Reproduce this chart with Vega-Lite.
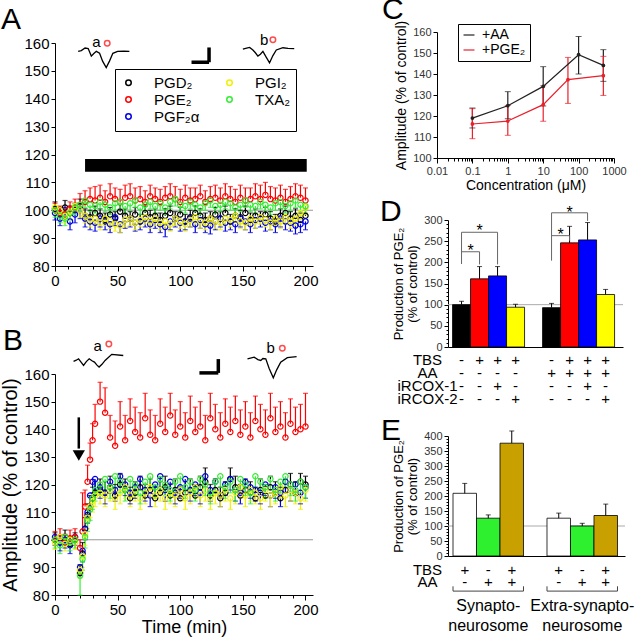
{
"$schema":"https://vega.github.io/schema/vega-lite/v6.json",
"padding":{"left":0,"top":-5,"right":0,"bottom":0},
"background":"white",
"config":{"font":"Liberation Sans","view":{"stroke":null},
 "axis":{"grid":false,"domainColor":"black","tickColor":"black","labelColor":"black","titleColor":"black","titleFontWeight":"normal","labelFlush":false,"labelOverlap":false},
 "title":{"fontSize":30,"fontWeight":"normal","anchor":"start","frame":"group","offset":0,"color":"black"},
 "legend":{"labelColor":"black"}},
"datasets":{
"A":[
{"t":0,"s":"D","y":100.5,"e":103},{"t":4,"s":"D","y":98.5,"e":101},{"t":8,"s":"D","y":101,"e":103.5},{"t":12,"s":"D","y":99,"e":101.5},{"t":16,"s":"D","y":100,"e":102.5},{"t":20,"s":"D","y":101.5,"e":104},{"t":24,"s":"D","y":98,"e":100.5},{"t":28,"s":"D","y":97.5,"e":100},{"t":32,"s":"D","y":99,"e":101.5},{"t":36,"s":"D","y":98,"e":100.5},{"t":40,"s":"D","y":96.5,"e":99},{"t":44,"s":"D","y":98.5,"e":101},{"t":48,"s":"D","y":97,"e":99.5},{"t":52,"s":"D","y":99.5,"e":102},{"t":56,"s":"D","y":98,"e":100.5},{"t":60,"s":"D","y":97,"e":99.5},{"t":64,"s":"D","y":98.5,"e":101},{"t":68,"s":"D","y":96,"e":98.5},{"t":72,"s":"D","y":99,"e":101.5},{"t":76,"s":"D","y":97.5,"e":100},{"t":80,"s":"D","y":98,"e":100.5},{"t":84,"s":"D","y":96.5,"e":99},{"t":88,"s":"D","y":98,"e":100.5},{"t":92,"s":"D","y":99,"e":101.5},{"t":96,"s":"D","y":97,"e":99.5},{"t":100,"s":"D","y":98.5,"e":101},{"t":104,"s":"D","y":96,"e":98.5},{"t":108,"s":"D","y":97.5,"e":100},{"t":112,"s":"D","y":99,"e":101.5},{"t":116,"s":"D","y":98,"e":100.5},{"t":120,"s":"D","y":96.5,"e":99},{"t":124,"s":"D","y":97,"e":99.5},{"t":128,"s":"D","y":98.5,"e":101},{"t":132,"s":"D","y":97,"e":99.5},{"t":136,"s":"D","y":99,"e":101.5},{"t":140,"s":"D","y":96,"e":98.5},{"t":144,"s":"D","y":98,"e":100.5},{"t":148,"s":"D","y":97.5,"e":100},{"t":152,"s":"D","y":99,"e":101.5},{"t":156,"s":"D","y":96.5,"e":99},{"t":160,"s":"D","y":98,"e":100.5},{"t":164,"s":"D","y":97,"e":99.5},{"t":168,"s":"D","y":98.5,"e":101},{"t":172,"s":"D","y":97,"e":99.5},{"t":176,"s":"D","y":96,"e":98.5},{"t":180,"s":"D","y":98,"e":100.5},{"t":184,"s":"D","y":99,"e":101.5},{"t":188,"s":"D","y":97,"e":99.5},{"t":192,"s":"D","y":98,"e":100.5},{"t":196,"s":"D","y":96.5,"e":99},{"t":200,"s":"D","y":98,"e":100.5},
{"t":0,"s":"F","y":99,"e":96.5},{"t":4,"s":"F","y":97,"e":94.5},{"t":8,"s":"F","y":100,"e":97},{"t":12,"s":"F","y":96,"e":93},{"t":16,"s":"F","y":98.5,"e":95.5},{"t":20,"s":"F","y":100,"e":97},{"t":24,"s":"F","y":97,"e":94},{"t":28,"s":"F","y":96,"e":93},{"t":32,"s":"F","y":95.5,"e":92.5},{"t":36,"s":"F","y":97,"e":94},{"t":40,"s":"F","y":96,"e":93},{"t":44,"s":"F","y":95,"e":92},{"t":48,"s":"F","y":97.5,"e":94.5},{"t":52,"s":"F","y":95,"e":92},{"t":56,"s":"F","y":96.5,"e":93.5},{"t":60,"s":"F","y":97,"e":94},{"t":64,"s":"F","y":95.5,"e":92.5},{"t":68,"s":"F","y":96,"e":93},{"t":72,"s":"F","y":97,"e":94},{"t":76,"s":"F","y":95,"e":92},{"t":80,"s":"F","y":96.5,"e":93.5},{"t":84,"s":"F","y":95,"e":92},{"t":88,"s":"F","y":94,"e":90.5},{"t":92,"s":"F","y":96,"e":93},{"t":96,"s":"F","y":97,"e":94},{"t":100,"s":"F","y":95.5,"e":92.5},{"t":104,"s":"F","y":96,"e":93},{"t":108,"s":"F","y":97,"e":94},{"t":112,"s":"F","y":95,"e":92},{"t":116,"s":"F","y":96.5,"e":93.5},{"t":120,"s":"F","y":95,"e":92},{"t":124,"s":"F","y":94.5,"e":91.5},{"t":128,"s":"F","y":96,"e":93},{"t":132,"s":"F","y":97,"e":94},{"t":136,"s":"F","y":95.5,"e":92.5},{"t":140,"s":"F","y":96,"e":93},{"t":144,"s":"F","y":95,"e":92},{"t":148,"s":"F","y":97,"e":94},{"t":152,"s":"F","y":96,"e":93},{"t":156,"s":"F","y":95,"e":92},{"t":160,"s":"F","y":96.5,"e":93.5},{"t":164,"s":"F","y":97,"e":94},{"t":168,"s":"F","y":95.5,"e":92.5},{"t":172,"s":"F","y":96,"e":93},{"t":176,"s":"F","y":95,"e":92},{"t":180,"s":"F","y":97,"e":94},{"t":184,"s":"F","y":96,"e":93},{"t":188,"s":"F","y":95.5,"e":92.5},{"t":192,"s":"F","y":94.5,"e":91.5},{"t":196,"s":"F","y":95,"e":92},{"t":200,"s":"F","y":96,"e":93},
{"t":0,"s":"E","y":100,"e":102.5},{"t":4,"s":"E","y":99,"e":101.5},{"t":8,"s":"E","y":98.5,"e":101},{"t":12,"s":"E","y":100.5,"e":103},{"t":16,"s":"E","y":101,"e":104},{"t":20,"s":"E","y":102,"e":106},{"t":24,"s":"E","y":103,"e":107},{"t":28,"s":"E","y":104,"e":108},{"t":32,"s":"E","y":103.5,"e":108.5},{"t":36,"s":"E","y":104.5,"e":109},{"t":40,"s":"E","y":103,"e":107},{"t":44,"s":"E","y":105,"e":109.5},{"t":48,"s":"E","y":104,"e":108},{"t":52,"s":"E","y":103,"e":107.5},{"t":56,"s":"E","y":104.5,"e":109},{"t":60,"s":"E","y":105,"e":109.5},{"t":64,"s":"E","y":103.5,"e":108},{"t":68,"s":"E","y":104,"e":108.5},{"t":72,"s":"E","y":103,"e":107},{"t":76,"s":"E","y":105,"e":109},{"t":80,"s":"E","y":104,"e":108},{"t":84,"s":"E","y":103,"e":107.5},{"t":88,"s":"E","y":104.5,"e":108.5},{"t":92,"s":"E","y":105,"e":109.5},{"t":96,"s":"E","y":104,"e":108.5},{"t":100,"s":"E","y":103,"e":107.5},{"t":104,"s":"E","y":104.5,"e":109},{"t":108,"s":"E","y":103.5,"e":108},{"t":112,"s":"E","y":104,"e":108},{"t":116,"s":"E","y":105,"e":109},{"t":120,"s":"E","y":103,"e":107},{"t":124,"s":"E","y":104,"e":108.5},{"t":128,"s":"E","y":104.5,"e":109},{"t":132,"s":"E","y":103.5,"e":108},{"t":136,"s":"E","y":105,"e":109.5},{"t":140,"s":"E","y":104,"e":108.5},{"t":144,"s":"E","y":103,"e":107.5},{"t":148,"s":"E","y":104.5,"e":109},{"t":152,"s":"E","y":103.5,"e":108},{"t":156,"s":"E","y":104,"e":108},{"t":160,"s":"E","y":105,"e":109.5},{"t":164,"s":"E","y":104,"e":109},{"t":168,"s":"E","y":105.5,"e":110},{"t":172,"s":"E","y":104,"e":108.5},{"t":176,"s":"E","y":103.5,"e":108},{"t":180,"s":"E","y":104.5,"e":109},{"t":184,"s":"E","y":103,"e":107.5},{"t":188,"s":"E","y":104,"e":108.5},{"t":192,"s":"E","y":105,"e":109.5},{"t":196,"s":"E","y":104.5,"e":109},{"t":200,"s":"E","y":103.5,"e":108},
{"t":0,"s":"I","y":101,"e":98.5},{"t":4,"s":"I","y":100,"e":97.5},{"t":8,"s":"I","y":98,"e":95.5},{"t":12,"s":"I","y":99.5,"e":97},{"t":16,"s":"I","y":101.5,"e":99},{"t":20,"s":"I","y":100,"e":97.5},{"t":24,"s":"I","y":98,"e":95.5},{"t":28,"s":"I","y":96.5,"e":94},{"t":32,"s":"I","y":97,"e":94.5},{"t":36,"s":"I","y":95.5,"e":93},{"t":40,"s":"I","y":97,"e":94.5},{"t":44,"s":"I","y":96,"e":93.5},{"t":48,"s":"I","y":95,"e":92.5},{"t":52,"s":"I","y":94.5,"e":92},{"t":56,"s":"I","y":96.5,"e":94},{"t":60,"s":"I","y":97,"e":94.5},{"t":64,"s":"I","y":95.5,"e":93},{"t":68,"s":"I","y":96.5,"e":94},{"t":72,"s":"I","y":97.5,"e":95},{"t":76,"s":"I","y":96,"e":93.5},{"t":80,"s":"I","y":97,"e":94.5},{"t":84,"s":"I","y":95.5,"e":93},{"t":88,"s":"I","y":96,"e":93.5},{"t":92,"s":"I","y":95,"e":92.5},{"t":96,"s":"I","y":97,"e":94.5},{"t":100,"s":"I","y":96,"e":93.5},{"t":104,"s":"I","y":95,"e":92.5},{"t":108,"s":"I","y":96.5,"e":94},{"t":112,"s":"I","y":97.5,"e":95},{"t":116,"s":"I","y":96,"e":93.5},{"t":120,"s":"I","y":95.5,"e":93},{"t":124,"s":"I","y":97,"e":94.5},{"t":128,"s":"I","y":96,"e":93.5},{"t":132,"s":"I","y":95.5,"e":93},{"t":136,"s":"I","y":97,"e":94.5},{"t":140,"s":"I","y":96.5,"e":94},{"t":144,"s":"I","y":98,"e":95.5},{"t":148,"s":"I","y":96,"e":93.5},{"t":152,"s":"I","y":95.5,"e":93},{"t":156,"s":"I","y":97,"e":94.5},{"t":160,"s":"I","y":96,"e":93.5},{"t":164,"s":"I","y":97.5,"e":95},{"t":168,"s":"I","y":96.5,"e":94},{"t":172,"s":"I","y":95.5,"e":93},{"t":176,"s":"I","y":97,"e":94.5},{"t":180,"s":"I","y":96,"e":93.5},{"t":184,"s":"I","y":97.5,"e":95},{"t":188,"s":"I","y":96,"e":93.5},{"t":192,"s":"I","y":97,"e":94.5},{"t":196,"s":"I","y":99,"e":96.5},{"t":200,"s":"I","y":101,"e":98.5},
{"t":0,"s":"T","y":100,"e":97.5},{"t":4,"s":"T","y":98,"e":95.5},{"t":8,"s":"T","y":97,"e":94.5},{"t":12,"s":"T","y":99,"e":96.5},{"t":16,"s":"T","y":101,"e":98.5},{"t":20,"s":"T","y":102,"e":99.5},{"t":24,"s":"T","y":103.5,"e":101},{"t":28,"s":"T","y":102,"e":99.5},{"t":32,"s":"T","y":101.5,"e":99},{"t":36,"s":"T","y":103,"e":100.5},{"t":40,"s":"T","y":102,"e":99.5},{"t":44,"s":"T","y":101,"e":98.5},{"t":48,"s":"T","y":102.5,"e":100},{"t":52,"s":"T","y":103,"e":100.5},{"t":56,"s":"T","y":101.5,"e":99},{"t":60,"s":"T","y":102.5,"e":100},{"t":64,"s":"T","y":103.5,"e":101},{"t":68,"s":"T","y":101,"e":98.5},{"t":72,"s":"T","y":102,"e":99.5},{"t":76,"s":"T","y":103,"e":100.5},{"t":80,"s":"T","y":101.5,"e":99},{"t":84,"s":"T","y":102.5,"e":100},{"t":88,"s":"T","y":101,"e":98.5},{"t":92,"s":"T","y":103,"e":100.5},{"t":96,"s":"T","y":104,"e":101.5},{"t":100,"s":"T","y":102,"e":99.5},{"t":104,"s":"T","y":101.5,"e":99},{"t":108,"s":"T","y":103,"e":100.5},{"t":112,"s":"T","y":102,"e":99.5},{"t":116,"s":"T","y":101,"e":98.5},{"t":120,"s":"T","y":102.5,"e":100},{"t":124,"s":"T","y":103.5,"e":101},{"t":128,"s":"T","y":101.5,"e":99},{"t":132,"s":"T","y":102,"e":99.5},{"t":136,"s":"T","y":103,"e":100.5},{"t":140,"s":"T","y":102.5,"e":100},{"t":144,"s":"T","y":101,"e":98.5},{"t":148,"s":"T","y":102,"e":99.5},{"t":152,"s":"T","y":103.5,"e":101},{"t":156,"s":"T","y":102,"e":99.5},{"t":160,"s":"T","y":101.5,"e":99},{"t":164,"s":"T","y":103,"e":100.5},{"t":168,"s":"T","y":102,"e":99.5},{"t":172,"s":"T","y":101,"e":98.5},{"t":176,"s":"T","y":102.5,"e":100},{"t":180,"s":"T","y":103,"e":100.5},{"t":184,"s":"T","y":101.5,"e":99},{"t":188,"s":"T","y":102.5,"e":100},{"t":192,"s":"T","y":103.5,"e":101},{"t":196,"s":"T","y":102,"e":99.5},{"t":200,"s":"T","y":101.5,"e":99}
],
"B":[
{"t":0,"s":"D","y":100,"e":102.5},{"t":4,"s":"D","y":99,"e":101.5},{"t":8,"s":"D","y":101,"e":103.5},{"t":12,"s":"D","y":98.5,"e":101},{"t":16,"s":"D","y":100,"e":102.5},{"t":20,"s":"D","y":88,"e":91},{"t":22,"s":"D","y":95,"e":99},{"t":24,"s":"D","y":104,"e":108},{"t":26,"s":"D","y":109,"e":113},{"t":28,"s":"D","y":112,"e":116},{"t":30,"s":"D","y":115,"e":119},{"t":32,"s":"D","y":117,"e":121},{"t":36,"s":"D","y":118,"e":122},{"t":40,"s":"D","y":117,"e":121},{"t":44,"s":"D","y":119,"e":123},{"t":48,"s":"D","y":116,"e":120},{"t":52,"s":"D","y":120,"e":124},{"t":56,"s":"D","y":118,"e":122},{"t":60,"s":"D","y":115,"e":119},{"t":64,"s":"D","y":117,"e":121},{"t":68,"s":"D","y":119,"e":123},{"t":72,"s":"D","y":116,"e":120},{"t":76,"s":"D","y":118,"e":122},{"t":80,"s":"D","y":115,"e":119},{"t":84,"s":"D","y":117,"e":121},{"t":88,"s":"D","y":119,"e":123},{"t":92,"s":"D","y":116,"e":120},{"t":96,"s":"D","y":118,"e":122},{"t":100,"s":"D","y":115,"e":119},{"t":104,"s":"D","y":117,"e":121},{"t":108,"s":"D","y":118,"e":122},{"t":112,"s":"D","y":116,"e":120},{"t":116,"s":"D","y":119,"e":123},{"t":120,"s":"D","y":121,"e":126},{"t":124,"s":"D","y":116,"e":120},{"t":128,"s":"D","y":118,"e":122},{"t":132,"s":"D","y":115,"e":119},{"t":136,"s":"D","y":117,"e":121},{"t":140,"s":"D","y":122,"e":126},{"t":144,"s":"D","y":119,"e":123},{"t":148,"s":"D","y":116,"e":120},{"t":152,"s":"D","y":118,"e":122},{"t":156,"s":"D","y":117,"e":121},{"t":160,"s":"D","y":115,"e":119},{"t":164,"s":"D","y":118,"e":122},{"t":168,"s":"D","y":116,"e":120},{"t":172,"s":"D","y":119,"e":123},{"t":176,"s":"D","y":117,"e":121},{"t":180,"s":"D","y":115,"e":119},{"t":184,"s":"D","y":118,"e":122},{"t":188,"s":"D","y":120,"e":124},{"t":192,"s":"D","y":117,"e":121},{"t":196,"s":"D","y":121,"e":124},{"t":200,"s":"D","y":120,"e":123},
{"t":0,"s":"F","y":101,"e":98},{"t":4,"s":"F","y":99,"e":96},{"t":8,"s":"F","y":100,"e":97},{"t":12,"s":"F","y":98,"e":95},{"t":16,"s":"F","y":101,"e":98},{"t":20,"s":"F","y":90,"e":87},{"t":22,"s":"F","y":96,"e":92},{"t":24,"s":"F","y":104,"e":100},{"t":26,"s":"F","y":110,"e":106},{"t":28,"s":"F","y":116,"e":112},{"t":30,"s":"F","y":121,"e":117},{"t":32,"s":"F","y":122,"e":118},{"t":36,"s":"F","y":119,"e":115},{"t":40,"s":"F","y":117,"e":113},{"t":44,"s":"F","y":121,"e":117},{"t":48,"s":"F","y":118,"e":114},{"t":52,"s":"F","y":123,"e":119},{"t":56,"s":"F","y":120,"e":116},{"t":60,"s":"F","y":117,"e":113},{"t":64,"s":"F","y":119,"e":115},{"t":68,"s":"F","y":122,"e":118},{"t":72,"s":"F","y":118,"e":114},{"t":76,"s":"F","y":116,"e":112},{"t":80,"s":"F","y":120,"e":116},{"t":84,"s":"F","y":123,"e":119},{"t":88,"s":"F","y":118,"e":114},{"t":92,"s":"F","y":121,"e":117},{"t":96,"s":"F","y":117,"e":113},{"t":100,"s":"F","y":119,"e":115},{"t":104,"s":"F","y":122,"e":118},{"t":108,"s":"F","y":118,"e":114},{"t":112,"s":"F","y":120,"e":116},{"t":116,"s":"F","y":117,"e":113},{"t":120,"s":"F","y":123,"e":119},{"t":124,"s":"F","y":118,"e":114},{"t":128,"s":"F","y":121,"e":117},{"t":132,"s":"F","y":116,"e":112},{"t":136,"s":"F","y":120,"e":116},{"t":140,"s":"F","y":122,"e":118},{"t":144,"s":"F","y":118,"e":114},{"t":148,"s":"F","y":117,"e":113},{"t":152,"s":"F","y":121,"e":117},{"t":156,"s":"F","y":119,"e":115},{"t":160,"s":"F","y":118,"e":114},{"t":164,"s":"F","y":117,"e":113},{"t":168,"s":"F","y":120,"e":116},{"t":172,"s":"F","y":116,"e":112},{"t":176,"s":"F","y":119,"e":115},{"t":180,"s":"F","y":117,"e":112},{"t":184,"s":"F","y":121,"e":117},{"t":188,"s":"F","y":118,"e":114},{"t":192,"s":"F","y":120,"e":116},{"t":196,"s":"F","y":117,"e":113},{"t":200,"s":"F","y":119,"e":115},
{"t":0,"s":"E","y":100,"e":103},{"t":4,"s":"E","y":101,"e":104},{"t":8,"s":"E","y":99,"e":102},{"t":12,"s":"E","y":100.5,"e":103.5},{"t":16,"s":"E","y":101,"e":104},{"t":20,"s":"E","y":97,"e":100},{"t":22,"s":"E","y":103,"e":117},{"t":24,"s":"E","y":112,"e":118},{"t":26,"s":"E","y":121,"e":127},{"t":28,"s":"E","y":129,"e":135},{"t":30,"s":"E","y":136,"e":142},{"t":32,"s":"E","y":142,"e":149},{"t":36,"s":"E","y":150,"e":157},{"t":40,"s":"E","y":146,"e":155},{"t":44,"s":"E","y":137,"e":145},{"t":48,"s":"E","y":134,"e":143},{"t":52,"s":"E","y":141,"e":150},{"t":56,"s":"E","y":136,"e":145},{"t":60,"s":"E","y":143,"e":151},{"t":64,"s":"E","y":139,"e":148},{"t":68,"s":"E","y":137,"e":146},{"t":72,"s":"E","y":144,"e":153},{"t":76,"s":"E","y":138,"e":147},{"t":80,"s":"E","y":136,"e":145},{"t":84,"s":"E","y":142,"e":151},{"t":88,"s":"E","y":139,"e":148},{"t":92,"s":"E","y":145,"e":153},{"t":96,"s":"E","y":138,"e":147},{"t":100,"s":"E","y":141,"e":150},{"t":104,"s":"E","y":137,"e":146},{"t":108,"s":"E","y":143,"e":152},{"t":112,"s":"E","y":139,"e":148},{"t":116,"s":"E","y":141,"e":150},{"t":120,"s":"E","y":136,"e":145},{"t":124,"s":"E","y":144,"e":153},{"t":128,"s":"E","y":140,"e":149},{"t":132,"s":"E","y":137,"e":146},{"t":136,"s":"E","y":142,"e":151},{"t":140,"s":"E","y":139,"e":148},{"t":144,"s":"E","y":143,"e":152},{"t":148,"s":"E","y":138,"e":147},{"t":152,"s":"E","y":141,"e":150},{"t":156,"s":"E","y":137,"e":146},{"t":160,"s":"E","y":143,"e":152},{"t":164,"s":"E","y":140,"e":149},{"t":168,"s":"E","y":138,"e":147},{"t":172,"s":"E","y":144,"e":153},{"t":176,"s":"E","y":139,"e":148},{"t":180,"s":"E","y":141,"e":150},{"t":184,"s":"E","y":137,"e":146},{"t":188,"s":"E","y":142,"e":151},{"t":192,"s":"E","y":139,"e":148},{"t":196,"s":"E","y":140,"e":149},{"t":200,"s":"E","y":141,"e":153},
{"t":0,"s":"I","y":99,"e":96.5},{"t":4,"s":"I","y":101,"e":98.5},{"t":8,"s":"I","y":98.5,"e":96},{"t":12,"s":"I","y":100,"e":97.5},{"t":16,"s":"I","y":99,"e":96.5},{"t":20,"s":"I","y":89,"e":86},{"t":22,"s":"I","y":94,"e":90},{"t":24,"s":"I","y":102,"e":98},{"t":26,"s":"I","y":108,"e":104},{"t":28,"s":"I","y":112,"e":108},{"t":30,"s":"I","y":114,"e":110},{"t":32,"s":"I","y":116,"e":112},{"t":36,"s":"I","y":117,"e":113},{"t":40,"s":"I","y":116,"e":112},{"t":44,"s":"I","y":118,"e":114},{"t":48,"s":"I","y":115,"e":111},{"t":52,"s":"I","y":117,"e":113},{"t":56,"s":"I","y":119,"e":115},{"t":60,"s":"I","y":116,"e":112},{"t":64,"s":"I","y":118,"e":114},{"t":68,"s":"I","y":115,"e":111},{"t":72,"s":"I","y":117,"e":113},{"t":76,"s":"I","y":119,"e":115},{"t":80,"s":"I","y":116,"e":112},{"t":84,"s":"I","y":118,"e":114},{"t":88,"s":"I","y":115,"e":111},{"t":92,"s":"I","y":117,"e":113},{"t":96,"s":"I","y":116,"e":112},{"t":100,"s":"I","y":118,"e":114},{"t":104,"s":"I","y":115,"e":111},{"t":108,"s":"I","y":117,"e":113},{"t":112,"s":"I","y":119,"e":115},{"t":116,"s":"I","y":116,"e":112},{"t":120,"s":"I","y":118,"e":114},{"t":124,"s":"I","y":115,"e":111},{"t":128,"s":"I","y":117,"e":113},{"t":132,"s":"I","y":116,"e":112},{"t":136,"s":"I","y":118,"e":114},{"t":140,"s":"I","y":115,"e":111},{"t":144,"s":"I","y":117,"e":113},{"t":148,"s":"I","y":119,"e":115},{"t":152,"s":"I","y":116,"e":112},{"t":156,"s":"I","y":118,"e":114},{"t":160,"s":"I","y":117,"e":113},{"t":164,"s":"I","y":115,"e":111},{"t":168,"s":"I","y":118,"e":114},{"t":172,"s":"I","y":116,"e":112},{"t":176,"s":"I","y":117,"e":113},{"t":180,"s":"I","y":119,"e":115},{"t":184,"s":"I","y":116,"e":112},{"t":188,"s":"I","y":118,"e":114},{"t":192,"s":"I","y":117,"e":113},{"t":196,"s":"I","y":115,"e":111},{"t":200,"s":"I","y":118,"e":114},
{"t":0,"s":"T","y":100,"e":97},{"t":4,"s":"T","y":98,"e":95},{"t":8,"s":"T","y":101,"e":98},{"t":12,"s":"T","y":99,"e":96},{"t":16,"s":"T","y":100,"e":97},{"t":20,"s":"T","y":87,"e":80},{"t":22,"s":"T","y":93,"e":89},{"t":24,"s":"T","y":101,"e":97},{"t":26,"s":"T","y":107,"e":103},{"t":28,"s":"T","y":111,"e":107},{"t":30,"s":"T","y":115,"e":111},{"t":32,"s":"T","y":118,"e":114},{"t":36,"s":"T","y":120,"e":116},{"t":40,"s":"T","y":122,"e":118},{"t":44,"s":"T","y":119,"e":115},{"t":48,"s":"T","y":123,"e":119},{"t":52,"s":"T","y":121,"e":117},{"t":56,"s":"T","y":118,"e":114},{"t":60,"s":"T","y":122,"e":118},{"t":64,"s":"T","y":120,"e":116},{"t":68,"s":"T","y":117,"e":113},{"t":72,"s":"T","y":121,"e":117},{"t":76,"s":"T","y":123,"e":119},{"t":80,"s":"T","y":119,"e":115},{"t":84,"s":"T","y":122,"e":118},{"t":88,"s":"T","y":120,"e":116},{"t":92,"s":"T","y":118,"e":114},{"t":96,"s":"T","y":121,"e":117},{"t":100,"s":"T","y":123,"e":119},{"t":104,"s":"T","y":119,"e":115},{"t":108,"s":"T","y":121,"e":117},{"t":112,"s":"T","y":118,"e":114},{"t":116,"s":"T","y":122,"e":118},{"t":120,"s":"T","y":120,"e":116},{"t":124,"s":"T","y":117,"e":113},{"t":128,"s":"T","y":121,"e":117},{"t":132,"s":"T","y":123,"e":119},{"t":136,"s":"T","y":119,"e":115},{"t":140,"s":"T","y":121,"e":117},{"t":144,"s":"T","y":118,"e":114},{"t":148,"s":"T","y":122,"e":118},{"t":152,"s":"T","y":120,"e":116},{"t":156,"s":"T","y":117,"e":113},{"t":160,"s":"T","y":123,"e":119},{"t":164,"s":"T","y":121,"e":117},{"t":168,"s":"T","y":119,"e":115},{"t":172,"s":"T","y":122,"e":118},{"t":176,"s":"T","y":118,"e":114},{"t":180,"s":"T","y":121,"e":117},{"t":184,"s":"T","y":123,"e":119},{"t":188,"s":"T","y":120,"e":116},{"t":192,"s":"T","y":118,"e":114},{"t":196,"s":"T","y":121,"e":117},{"t":200,"s":"T","y":119,"e":115}
],
"trA":[{"tr":"a","t":18.5,"y":157},{"tr":"a","t":21,"y":157.3},{"tr":"a","t":24,"y":158.2},{"tr":"a","t":26.5,"y":158},{"tr":"a","t":29,"y":155.3},{"tr":"a","t":31,"y":156.2},{"tr":"a","t":33,"y":157},{"tr":"a","t":35.6,"y":156.3},{"tr":"a","t":38,"y":153.5},{"tr":"a","t":40.9,"y":151.2},{"tr":"a","t":43.5,"y":153.5},{"tr":"a","t":46.2,"y":156.3},{"tr":"a","t":50,"y":157},{"tr":"a","t":55,"y":157.1},{"tr":"a","t":59.4,"y":157},
{"tr":"b","t":150,"y":157.8},{"tr":"b","t":153,"y":158.2},{"tr":"b","t":155.4,"y":158.4},{"tr":"b","t":158,"y":157.5},{"tr":"b","t":160,"y":156.5},{"tr":"b","t":162,"y":155.3},{"tr":"b","t":164,"y":156},{"tr":"b","t":166,"y":157},{"tr":"b","t":168.5,"y":155},{"tr":"b","t":171.3,"y":152.9},{"tr":"b","t":174,"y":155.5},{"tr":"b","t":176.7,"y":157.5},{"tr":"b","t":182,"y":158.3},{"tr":"b","t":186,"y":158.1},{"tr":"b","t":191,"y":158}],
"trB":[{"tr":"a","t":14.8,"y":164.6},{"tr":"a","t":17,"y":165},{"tr":"a","t":18.8,"y":165.5},{"tr":"a","t":20.5,"y":164.5},{"tr":"a","t":22.8,"y":163.1},{"tr":"a","t":25,"y":164.5},{"tr":"a","t":27.3,"y":165.5},{"tr":"a","t":29.5,"y":164.8},{"tr":"a","t":31.5,"y":164.3},{"tr":"a","t":33.5,"y":163.2},{"tr":"a","t":35.2,"y":162.5},{"tr":"a","t":37.5,"y":163.5},{"tr":"a","t":40,"y":164.9},{"tr":"a","t":45.3,"y":167.1},{"tr":"a","t":54.5,"y":166.7},
{"tr":"b","t":153.7,"y":165.5},{"tr":"b","t":159,"y":166.1},{"tr":"b","t":162,"y":165.2},{"tr":"b","t":164.3,"y":164.9},{"tr":"b","t":166,"y":165.6},{"tr":"b","t":168.3,"y":165.5},{"tr":"b","t":171,"y":162},{"tr":"b","t":174.3,"y":158.6},{"tr":"b","t":177,"y":161.5},{"tr":"b","t":180.2,"y":164.3},{"tr":"b","t":185.5,"y":165.9},{"tr":"b","t":192.9,"y":166.3}],
"C":[{"c":0.1,"s":"+AA","y":119,"lo":114.3,"hi":123.8},{"c":1,"s":"+AA","y":124.9,"lo":118.7,"hi":131.6},{"c":10,"s":"+AA","y":134.1,"lo":124.8,"hi":143.5},{"c":100,"s":"+AA","y":149.2,"lo":140,"hi":157.9},{"c":500,"s":"+AA","y":144.1,"lo":136.5,"hi":151.6},
{"c":0.1,"s":"+PGE₂","y":116.2,"lo":109.2,"hi":123.5},{"c":1,"s":"+PGE₂","y":117.6,"lo":110.8,"hi":125},{"c":10,"s":"+PGE₂","y":125.4,"lo":117.5,"hi":134.4},{"c":50,"s":"+PGE₂","y":137.3,"lo":126,"hi":147.9},{"c":500,"s":"+PGE₂","y":139.2,"lo":129.8,"hi":148.4}],
"D":[{"k":"k1","c":"ctrl","v":100,"hi":108},{"k":"r1","c":"tbs","v":161,"hi":190},{"k":"b1","c":"cox1","v":168,"hi":190},{"k":"y1","c":"cox2","v":94,"hi":101},{"k":"k2","c":"ctrl","v":93,"hi":103},{"k":"r2","c":"tbs","v":246,"hi":285},{"k":"b2","c":"cox1","v":253,"hi":294},{"k":"y2","c":"cox2","v":124,"hi":136}],
"Dsig":[{"k":"k1","r":"TBS","s":"-"},{"k":"k1","r":"AA","s":"-"},{"k":"k1","r":"iRCOX-1","s":"-"},{"k":"k1","r":"iRCOX-2","s":"-"},
{"k":"r1","r":"TBS","s":"+"},{"k":"r1","r":"AA","s":"-"},{"k":"r1","r":"iRCOX-1","s":"-"},{"k":"r1","r":"iRCOX-2","s":"-"},
{"k":"b1","r":"TBS","s":"+"},{"k":"b1","r":"AA","s":"-"},{"k":"b1","r":"iRCOX-1","s":"+"},{"k":"b1","r":"iRCOX-2","s":"-"},
{"k":"y1","r":"TBS","s":"+"},{"k":"y1","r":"AA","s":"-"},{"k":"y1","r":"iRCOX-1","s":"-"},{"k":"y1","r":"iRCOX-2","s":"+"},
{"k":"k2","r":"TBS","s":"-"},{"k":"k2","r":"AA","s":"+"},{"k":"k2","r":"iRCOX-1","s":"-"},{"k":"k2","r":"iRCOX-2","s":"-"},
{"k":"r2","r":"TBS","s":"+"},{"k":"r2","r":"AA","s":"+"},{"k":"r2","r":"iRCOX-1","s":"-"},{"k":"r2","r":"iRCOX-2","s":"-"},
{"k":"b2","r":"TBS","s":"+"},{"k":"b2","r":"AA","s":"+"},{"k":"b2","r":"iRCOX-1","s":"+"},{"k":"b2","r":"iRCOX-2","s":"-"},
{"k":"y2","r":"TBS","s":"+"},{"k":"y2","r":"AA","s":"+"},{"k":"y2","r":"iRCOX-1","s":"-"},{"k":"y2","r":"iRCOX-2","s":"+"}],
"E":[{"k":"w1","c":"TBS","v":209,"hi":242},{"k":"g1","c":"AA","v":126,"hi":137},{"k":"o1","c":"TBS+AA","v":376,"hi":417},{"k":"w2","c":"TBS","v":126,"hi":143},{"k":"g2","c":"AA","v":100,"hi":109},{"k":"o2","c":"TBS+AA","v":135,"hi":173}],
"Esig":[{"k":"w1","r":1,"s":"+"},{"k":"w1","r":2,"s":"-"},{"k":"g1","r":1,"s":"-"},{"k":"g1","r":2,"s":"+"},{"k":"o1","r":1,"s":"+"},{"k":"o1","r":2,"s":"+"},{"k":"w2","r":1,"s":"+"},{"k":"w2","r":2,"s":"-"},{"k":"g2","r":1,"s":"-"},{"k":"g2","r":2,"s":"+"},{"k":"o2","r":1,"s":"+"},{"k":"o2","r":2,"s":"+"}]
},
"resolve":{"scale":{"color":"independent","fill":"independent","stroke":"independent"},"legend":{"color":"independent","fill":"independent","stroke":"independent"}},
"spacing":62,
"hconcat":[
{"vconcat":[
{"width":258,"height":11,"data":{"values":[{}]},"mark":{"type":"point","opacity":0},"encoding":{}},
{"width":258,"height":223,"title":{"text":"A","dx":-54,"dy":6},
 "layer":[
  {"data":{"values":[{}]},"mark":{"type":"rule","color":"#999","strokeWidth":1},"encoding":{"y":{"datum":100,"type":"quantitative","scale":{"domain":[80,160],"nice":false,"zero":false}}}},
  {"data":{"values":[{"t1":24,"t2":201,"y1":113.8,"y2":118.4}]},"mark":{"type":"rect","color":"black"},"encoding":{"x":{"field":"t1","type":"quantitative","scale":{"domain":[0,206],"nice":false,"zero":false}},"x2":{"field":"t2"},"y":{"field":"y1","type":"quantitative","scale":{"domain":[80,160],"nice":false,"zero":false}},"y2":{"field":"y2"}}},
  {"data":{"name":"A"},"mark":{"type":"rule","strokeWidth":1.2},"encoding":{"x":{"field":"t","type":"quantitative","scale":{"domain":[0,206],"nice":false,"zero":false}},"y":{"field":"y","type":"quantitative","scale":{"domain":[80,160],"nice":false,"zero":false}},"y2":{"field":"e"},"stroke":{"field":"s","type":"nominal","scale":{"domain":["D","E","F","I","T"],"range":["#000000","#ff0000","#0000e6","#f0f000","#33ee33"]},"legend":null}}},
  {"data":{"name":"A"},"mark":{"type":"tick","orient":"horizontal","size":5,"thickness":1.2},"encoding":{"x":{"field":"t","type":"quantitative","scale":{"domain":[0,206],"nice":false,"zero":false}},"y":{"field":"e","type":"quantitative","scale":{"domain":[80,160],"nice":false,"zero":false}},"fill":{"field":"s","type":"nominal","scale":{"domain":["D","E","F","I","T"],"range":["#000000","#ff0000","#0000e6","#f0f000","#33ee33"]},"legend":null}}},
  {"data":{"name":"A"},"mark":{"type":"point","filled":false,"size":28,"strokeWidth":1.2,"opacity":1},"encoding":{
   "x":{"field":"t","type":"quantitative","scale":{"domain":[0,206],"nice":false,"zero":false},"axis":{"title":null,"format":"d","values":[0,10,20,30,40,50,60,70,80,90,100,110,120,130,140,150,160,170,180,190,200],"tickCount":100,"labelExpr":"datum.value % 50 == 0 ? datum.label : ''","tickSize":{"condition":{"test":"datum.value % 50 == 0","value":5},"value":3},"labelFontSize":15,"labelPadding":2,"labelOverlap":false,"labelFlush":false}},
   "y":{"field":"y","type":"quantitative","scale":{"domain":[80,160],"nice":false,"zero":false},"axis":{"title":null,"format":"d","values":[80,90,100,110,120,130,140,150,160],"tickCount":100,"tickSize":4,"labelFontSize":15,"labelPadding":2,"labelOverlap":false,"labelFlush":false}},
   "color":{"field":"s","type":"nominal","scale":{"domain":["D","E","F","I","T"],"range":["#000000","#ff0000","#0000e6","#f0f000","#33ee33"]},"legend":{"orient":"none","legendX":60,"legendY":26,"columns":2,"title":null,"strokeColor":"black","fillColor":"white","padding":6,"labelFontSize":15,"symbolType":"circle","symbolSize":30,"symbolStrokeWidth":1.5,"labelOffset":18,"columnPadding":22,"rowPadding":1,"labelExpr":"datum.label == 'D' ? 'PGD₂' : datum.label == 'E' ? 'PGE₂' : datum.label == 'F' ? 'PGF₂α' : datum.label == 'I' ? 'PGI₂' : 'TXA₂'"}}}},
  {"data":{"name":"trA"},"mark":{"type":"line","color":"black","strokeWidth":1.3},"encoding":{"x":{"field":"t","type":"quantitative","scale":{"domain":[0,206],"nice":false,"zero":false}},"y":{"field":"y","type":"quantitative","scale":{"domain":[80,160],"nice":false,"zero":false}},"detail":{"field":"tr"}}},
  {"data":{"values":[{"t":33,"y":160.5,"l":"a"},{"t":167,"y":161,"l":"b"}]},"mark":{"type":"text","fontSize":15,"baseline":"middle","color":"black"},"encoding":{"x":{"field":"t","type":"quantitative","scale":{"domain":[0,206],"nice":false,"zero":false}},"y":{"field":"y","type":"quantitative","scale":{"domain":[80,160],"nice":false,"zero":false}},"text":{"field":"l"}}},
  {"data":{"values":[{"t":41.7,"y":159.9},{"t":174,"y":161.2}]},"mark":{"type":"point","filled":false,"color":"red","size":30,"strokeWidth":1.5},"encoding":{"x":{"field":"t","type":"quantitative","scale":{"domain":[0,206],"nice":false,"zero":false}},"y":{"field":"y","type":"quantitative","scale":{"domain":[80,160],"nice":false,"zero":false}}}},
  {"data":{"values":[{"t1":109,"t2":123,"y1":153.1,"y2":153.1},{"t1":123,"t2":123,"y1":153.1,"y2":158.4}]},"mark":{"type":"rule","color":"black","strokeWidth":3.5},"encoding":{"x":{"field":"t1","type":"quantitative","scale":{"domain":[0,206],"nice":false,"zero":false}},"x2":{"field":"t2"},"y":{"field":"y1","type":"quantitative","scale":{"domain":[80,160],"nice":false,"zero":false}},"y2":{"field":"y2"}}}
 ]},
{"width":258,"height":108,"data":{"values":[{}]},"mark":{"type":"point","opacity":0},"encoding":{}},
{"width":258,"height":221,"title":{"text":"B","dx":-52,"dy":22},
 "layer":[
  {"data":{"values":[{}]},"mark":{"type":"rule","color":"#999","strokeWidth":1},"encoding":{"y":{"datum":100,"type":"quantitative","scale":{"domain":[80,160],"nice":false,"zero":false}}}},
  {"data":{"name":"B"},"mark":{"type":"rule","strokeWidth":1.2},"encoding":{"x":{"field":"t","type":"quantitative","scale":{"domain":[0,206],"nice":false,"zero":false}},"y":{"field":"y","type":"quantitative","scale":{"domain":[80,160],"nice":false,"zero":false}},"y2":{"field":"e"},"stroke":{"field":"s","type":"nominal","scale":{"domain":["D","E","F","I","T"],"range":["#000000","#ff0000","#0000e6","#f0f000","#33ee33"]},"legend":null}}},
  {"data":{"name":"B"},"mark":{"type":"tick","orient":"horizontal","size":5,"thickness":1.2},"encoding":{"x":{"field":"t","type":"quantitative","scale":{"domain":[0,206],"nice":false,"zero":false}},"y":{"field":"e","type":"quantitative","scale":{"domain":[80,160],"nice":false,"zero":false}},"fill":{"field":"s","type":"nominal","scale":{"domain":["D","E","F","I","T"],"range":["#000000","#ff0000","#0000e6","#f0f000","#33ee33"]},"legend":null}}},
  {"data":{"name":"B"},"mark":{"type":"point","filled":false,"size":28,"strokeWidth":1.2,"opacity":1},"encoding":{
   "x":{"field":"t","type":"quantitative","scale":{"domain":[0,206],"nice":false,"zero":false},"axis":{"title":"Time (min)","titleFontSize":18,"titlePadding":1,"format":"d","values":[0,10,20,30,40,50,60,70,80,90,100,110,120,130,140,150,160,170,180,190,200],"tickCount":100,"labelExpr":"datum.value % 50 == 0 ? datum.label : ''","tickSize":{"condition":{"test":"datum.value % 50 == 0","value":5},"value":3},"labelFontSize":15,"labelPadding":2,"labelOverlap":false,"labelFlush":false}},
   "y":{"field":"y","type":"quantitative","scale":{"domain":[80,160],"nice":false,"zero":false},"axis":{"title":"Amplitude (% of control)","titleFontSize":20,"titlePadding":3,"format":"d","values":[80,90,100,110,120,130,140,150,160],"tickCount":100,"tickSize":4,"labelFontSize":15,"labelPadding":2,"labelOverlap":false,"labelFlush":false}},
   "color":{"field":"s","type":"nominal","scale":{"domain":["D","E","F","I","T"],"range":["#000000","#ff0000","#0000e6","#f0f000","#33ee33"]},"legend":null}}},
  {"data":{"name":"trB"},"mark":{"type":"line","color":"black","strokeWidth":1.3},"encoding":{"x":{"field":"t","type":"quantitative","scale":{"domain":[0,206],"nice":false,"zero":false}},"y":{"field":"y","type":"quantitative","scale":{"domain":[80,160],"nice":false,"zero":false}},"detail":{"field":"tr"}}},
  {"data":{"values":[{"t":34,"y":170.2,"l":"a"},{"t":172.2,"y":169.3,"l":"b"}]},"mark":{"type":"text","fontSize":15,"baseline":"middle","color":"black"},"encoding":{"x":{"field":"t","type":"quantitative","scale":{"domain":[0,206],"nice":false,"zero":false}},"y":{"field":"y","type":"quantitative","scale":{"domain":[80,160],"nice":false,"zero":false}},"text":{"field":"l"}}},
  {"data":{"values":[{"t":43,"y":170.9},{"t":181.5,"y":169.3}]},"mark":{"type":"point","filled":false,"color":"red","size":30,"strokeWidth":1.5},"encoding":{"x":{"field":"t","type":"quantitative","scale":{"domain":[0,206],"nice":false,"zero":false}},"y":{"field":"y","type":"quantitative","scale":{"domain":[80,160],"nice":false,"zero":false}}}},
  {"data":{"values":[{"t1":115.3,"t2":130.4,"y1":160.4,"y2":160.4},{"t1":130.4,"t2":130.4,"y1":160.4,"y2":165.4}]},"mark":{"type":"rule","color":"black","strokeWidth":3.5},"encoding":{"x":{"field":"t1","type":"quantitative","scale":{"domain":[0,206],"nice":false,"zero":false}},"x2":{"field":"t2"},"y":{"field":"y1","type":"quantitative","scale":{"domain":[80,160],"nice":false,"zero":false}},"y2":{"field":"y2"}}},
  {"data":{"values":[{"t":19,"y1":144.3,"y2":133}]},"mark":{"type":"rule","color":"black","strokeWidth":2.5},"encoding":{"x":{"field":"t","type":"quantitative","scale":{"domain":[0,206],"nice":false,"zero":false}},"y":{"field":"y1","type":"quantitative","scale":{"domain":[80,160],"nice":false,"zero":false}},"y2":{"field":"y2"}}},
  {"data":{"values":[{"t":19,"y":130.5}]},"mark":{"type":"point","shape":"triangle-down","filled":true,"color":"black","size":150,"opacity":1},"encoding":{"x":{"field":"t","type":"quantitative","scale":{"domain":[0,206],"nice":false,"zero":false}},"y":{"field":"y","type":"quantitative","scale":{"domain":[80,160],"nice":false,"zero":false}}}}
 ]}
],"spacing":0,"bounds":"flush","resolve":{"scale":{"color":"independent"},"legend":{"color":"independent"}}},
{"vconcat":[
{"width":166,"height":126,"title":{"text":"C","dx":-66,"dy":9},"data":{"name":"C"},
 "layer":[
  {"transform":[{"filter":"datum.s == '+AA'"}],"mark":{"type":"rule","strokeWidth":1.2,"color":"#222222"},"encoding":{"x":{"field":"c","type":"quantitative","scale":{"type":"log","domain":[0.01,1000],"nice":false,"range":[-11,166]}},"y":{"field":"lo","type":"quantitative","scale":{"domain":[100,160],"nice":false,"zero":false}},"y2":{"field":"hi"}}},
  {"transform":[{"filter":"datum.s != '+AA'"}],"mark":{"type":"rule","strokeWidth":1.2,"color":"#e8202a"},"encoding":{"x":{"field":"c","type":"quantitative","scale":{"type":"log","domain":[0.01,1000],"nice":false,"range":[-11,166]}},"y":{"field":"lo","type":"quantitative","scale":{"domain":[100,160],"nice":false,"zero":false}},"y2":{"field":"hi"}}},
  {"transform":[{"filter":"datum.s == '+AA'"},{"fold":["lo","hi"],"as":["kk","vv"]}],"mark":{"type":"tick","orient":"horizontal","size":6,"thickness":1,"color":"#222222"},"encoding":{"x":{"field":"c","type":"quantitative","scale":{"type":"log","domain":[0.01,1000],"nice":false,"range":[-11,166]}},"y":{"field":"vv","type":"quantitative","scale":{"domain":[100,160],"nice":false,"zero":false}}}},
  {"transform":[{"filter":"datum.s != '+AA'"},{"fold":["lo","hi"],"as":["kk","vv"]}],"mark":{"type":"tick","orient":"horizontal","size":6,"thickness":1,"color":"#e8202a"},"encoding":{"x":{"field":"c","type":"quantitative","scale":{"type":"log","domain":[0.01,1000],"nice":false,"range":[-11,166]}},"y":{"field":"vv","type":"quantitative","scale":{"domain":[100,160],"nice":false,"zero":false}}}},
  {"mark":{"type":"line","strokeWidth":1.2,"point":{"filled":true,"size":14}},"encoding":{
   "x":{"field":"c","type":"quantitative","scale":{"type":"log","domain":[0.01,1000],"nice":false,"range":[-11,166]},"axis":{"title":"Concentration (μM)","titleFontSize":14,"titlePadding":2,"labelFontSize":11,"labelPadding":2,"labelColor":"#333","format":"~g","labelOverlap":false,"labelFlush":false,"tickCount":100,"values":[0.01,0.02,0.03,0.04,0.05,0.06,0.07,0.08,0.09,0.1,0.2,0.3,0.4,0.5,0.6,0.7,0.8,0.9,1,2,3,4,5,6,7,8,9,10,20,30,40,50,60,70,80,90,100,200,300,400,500,600,700,800,900,1000],"labelExpr":"abs(log(datum.value)/LN10 - round(log(datum.value)/LN10)) < 0.001 ? datum.label : ''","tickSize":{"condition":{"test":"abs(log(datum.value)/LN10 - round(log(datum.value)/LN10)) < 0.001","value":5},"value":3}}},
   "y":{"field":"y","type":"quantitative","scale":{"domain":[100,160],"nice":false,"zero":false},"axis":{"title":"Amplitude (% of control)","titleFontSize":14,"titlePadding":4,"labelFontSize":11,"labelPadding":2,"labelColor":"#333","offset":11,"format":"d","labelOverlap":false,"labelFlush":false,"values":[100,110,120,130,140,150,160],"tickCount":100,"tickSize":4}},
   "color":{"field":"s","type":"nominal","scale":{"domain":["+AA","+PGE₂"],"range":["#222222","#e8202a"]},"legend":{"orient":"none","legendX":10,"legendY":-8,"title":null,"strokeColor":"black","fillColor":"white","padding":4,"labelFontSize":14,"labelOffset":6,"symbolType":"stroke","symbolStrokeWidth":1.2,"symbolSize":120,"rowPadding":1}}}}
 ]},
{"width":1,"height":62,"data":{"values":[{}]},"mark":{"type":"point","opacity":0},"encoding":{}},
{"width":175,"height":127,"title":{"text":"D","dx":-68,"dy":26},
 "layer":[
  {"data":{"values":[{}]},"mark":{"type":"rule","color":"#aaa","strokeWidth":1},"encoding":{"y":{"datum":100,"type":"quantitative","scale":{"domain":[0,300],"nice":false}}}},
  {"data":{"name":"D"},"mark":{"type":"bar","stroke":"black","strokeWidth":0.8},"encoding":{
   "x":{"field":"k","type":"nominal","scale":{"type":"band","domain":["k1","r1","b1","y1","gap","k2","r2","b2","y2"],"paddingInner":0,"paddingOuter":0.36,"align":0.35},"axis":{"labels":false,"ticks":false,"title":null}},
   "y":{"field":"v","type":"quantitative","scale":{"domain":[0,300],"nice":false},"axis":{"title":["Production of PGE₂","(% of control)"],"titleFontSize":13,"titleLineHeight":14,"titlePadding":4,"labelFontSize":11,"labelPadding":2,"labelColor":"#333","format":"d","labelOverlap":false,"labelFlush":false,"tickCount":100,"values":[0,10,20,30,40,50,60,70,80,90,100,110,120,130,140,150,160,170,180,190,200,210,220,230,240,250,260,270,280,290,300],"labelExpr":"datum.value % 50 == 0 ? datum.label : ''","tickSize":{"condition":{"test":"datum.value % 50 == 0","value":4},"value":2}}},
   "fill":{"field":"c","type":"nominal","scale":{"domain":["ctrl","tbs","cox1","cox2"],"range":["#000000","#ff0000","#0000ff","#ffff00"]},"legend":null}}},
  {"data":{"name":"D"},"mark":{"type":"rule","color":"black","strokeWidth":1},"encoding":{"x":{"field":"k","type":"nominal","scale":{"type":"band","domain":["k1","r1","b1","y1","gap","k2","r2","b2","y2"],"paddingInner":0,"paddingOuter":0.36,"align":0.35}},"y":{"field":"v","type":"quantitative","scale":{"domain":[0,300],"nice":false}},"y2":{"field":"hi"}}},
  {"data":{"name":"D"},"mark":{"type":"tick","orient":"horizontal","size":5,"thickness":1,"color":"black"},"encoding":{"x":{"field":"k","type":"nominal","scale":{"type":"band","domain":["k1","r1","b1","y1","gap","k2","r2","b2","y2"],"paddingInner":0,"paddingOuter":0.36,"align":0.35}},"y":{"field":"hi","type":"quantitative","scale":{"domain":[0,300],"nice":false}}}},
  {"data":{"values":[{"a":"k1","b":"r1","y":225},{"a":"k1","b":"b1","y":271},{"a":"k2","b":"r2","y":263},{"a":"k2","b":"b2","y":317}]},"mark":{"type":"rule","color":"#666","strokeWidth":1},"encoding":{"x":{"field":"a","type":"nominal","scale":{"type":"band","domain":["k1","r1","b1","y1","gap","k2","r2","b2","y2"],"paddingInner":0,"paddingOuter":0.36,"align":0.35}},"x2":{"field":"b"},"y":{"field":"y","type":"quantitative","scale":{"domain":[0,300],"nice":false}}}},
  {"data":{"values":[{"a":"k1","y":196,"y2":271},{"a":"r1","y":195,"y2":225},{"a":"b1","y":195,"y2":271},{"a":"k2","y":204,"y2":317},{"a":"r2","y":251,"y2":263},{"a":"b2","y":298,"y2":317}]},"mark":{"type":"rule","color":"#666","strokeWidth":1},"encoding":{"x":{"field":"a","type":"nominal","scale":{"type":"band","domain":["k1","r1","b1","y1","gap","k2","r2","b2","y2"],"paddingInner":0,"paddingOuter":0.36,"align":0.35}},"y":{"field":"y","type":"quantitative","scale":{"domain":[0,300],"nice":false}},"y2":{"field":"y2"}}},
  {"data":{"values":[{"a":"k1","y":226},{"a":"k2","y":265}]},"mark":{"type":"text","text":"*","fontSize":16,"baseline":"middle","color":"black"},"encoding":{"x":{"field":"a","type":"nominal","scale":{"type":"band","domain":["k1","r1","b1","y1","gap","k2","r2","b2","y2"],"paddingInner":0,"paddingOuter":0.36,"align":0.35},"bandPosition":1},"y":{"field":"y","type":"quantitative","scale":{"domain":[0,300],"nice":false}}}},
  {"data":{"values":[{"a":"r1","y":274},{"a":"r2","y":317}]},"mark":{"type":"text","text":"*","fontSize":16,"baseline":"middle","color":"black"},"encoding":{"x":{"field":"a","type":"nominal","scale":{"type":"band","domain":["k1","r1","b1","y1","gap","k2","r2","b2","y2"],"paddingInner":0,"paddingOuter":0.36,"align":0.35}},"y":{"field":"y","type":"quantitative","scale":{"domain":[0,300],"nice":false}}}}
 ]},
{"width":1,"height":6,"data":{"values":[{}]},"mark":{"type":"point","opacity":0},"encoding":{}},
{"width":175,"height":52,"data":{"name":"Dsig"},"mark":{"type":"text","fontSize":15,"color":"black","baseline":"middle"},
 "encoding":{"x":{"field":"k","type":"nominal","scale":{"type":"band","domain":["k1","r1","b1","y1","gap","k2","r2","b2","y2"],"paddingInner":0,"paddingOuter":0.36,"align":0.35},"axis":null},
  "y":{"field":"r","type":"nominal","scale":{"type":"point","domain":["TBS","AA","iRCOX-1","iRCOX-2"],"padding":0.5},"axis":{"title":null,"domain":false,"ticks":false,"tickSize":0,"labelFontSize":15,"labelAlign":"center","labelPadding":21,"labelOverlap":false}},
  "text":{"field":"s"}}},
{"width":1,"height":31,"data":{"values":[{}]},"mark":{"type":"point","opacity":0},"encoding":{}},
{"width":177,"height":120,"title":{"text":"E","dx":-67,"dy":20},
 "layer":[
  {"data":{"values":[{}]},"mark":{"type":"rule","color":"#aaa","strokeWidth":1},"encoding":{"y":{"datum":100,"type":"quantitative","scale":{"domain":[0,400],"nice":false}}}},
  {"data":{"name":"E"},"mark":{"type":"bar","stroke":"black","strokeWidth":0.8},"encoding":{
   "x":{"field":"k","type":"nominal","scale":{"type":"band","domain":["w1","g1","o1","gap","w2","g2","o2"],"paddingInner":0,"paddingOuter":0.266,"align":0.4},"axis":{"labels":false,"ticks":false,"title":null}},
   "y":{"field":"v","type":"quantitative","scale":{"domain":[0,400],"nice":false},"axis":{"title":["Production of PGE₂","(% of control)"],"titleFontSize":13,"titleLineHeight":14,"titlePadding":4,"labelFontSize":11,"labelPadding":2,"labelColor":"#333","format":"d","labelOverlap":false,"labelFlush":false,"tickCount":100,"values":[0,10,20,30,40,50,60,70,80,90,100,110,120,130,140,150,160,170,180,190,200,210,220,230,240,250,260,270,280,290,300,310,320,330,340,350,360,370,380,390,400],"labelExpr":"datum.value % 50 == 0 ? datum.label : ''","tickSize":{"condition":{"test":"datum.value % 50 == 0","value":4},"value":2}}},
   "fill":{"field":"c","type":"nominal","scale":{"domain":["TBS","AA","TBS+AA"],"range":["#ffffff","#2ef02e","#c8a000"]},"legend":null}}},
  {"data":{"name":"E"},"mark":{"type":"rule","color":"black","strokeWidth":1},"encoding":{"x":{"field":"k","type":"nominal","scale":{"type":"band","domain":["w1","g1","o1","gap","w2","g2","o2"],"paddingInner":0,"paddingOuter":0.266,"align":0.4}},"y":{"field":"v","type":"quantitative","scale":{"domain":[0,400],"nice":false}},"y2":{"field":"hi"}}},
  {"data":{"name":"E"},"mark":{"type":"tick","orient":"horizontal","size":5,"thickness":1,"color":"black"},"encoding":{"x":{"field":"k","type":"nominal","scale":{"type":"band","domain":["w1","g1","o1","gap","w2","g2","o2"],"paddingInner":0,"paddingOuter":0.266,"align":0.4}},"y":{"field":"hi","type":"quantitative","scale":{"domain":[0,400],"nice":false}}}}
 ]},
{"width":1,"height":3,"data":{"values":[{}]},"mark":{"type":"point","opacity":0},"encoding":{}},
{"width":177,"height":78,
 "layer":[
  {"data":{"name":"Esig"},"mark":{"type":"text","fontSize":15,"color":"black","baseline":"middle"},"encoding":{
   "x":{"field":"k","type":"nominal","scale":{"type":"band","domain":["w1","g1","o1","gap","w2","g2","o2"],"paddingInner":0,"paddingOuter":0.266,"align":0.4},"axis":null},
   "y":{"field":"r","type":"quantitative","scale":{"domain":[0.125,6.625],"reverse":true,"nice":false,"zero":false},"axis":{"title":null,"domain":false,"ticks":false,"tickSize":0,"grid":false,"values":[1,2],"tickCount":100,"labelExpr":"datum.value == 1 ? 'TBS' : 'AA'","labelFontSize":15,"labelAlign":"center","labelPadding":21,"labelOverlap":false,"labelFlush":false}},
   "text":{"field":"s"}}},
  {"data":{"values":[{"a":"w1","b":"o1","r":2.8},{"a":"w2","b":"o2","r":2.8}]},"mark":{"type":"rule","color":"#444","strokeWidth":1},"encoding":{"x":{"field":"a","type":"nominal","scale":{"type":"band","domain":["w1","g1","o1","gap","w2","g2","o2"],"paddingInner":0,"paddingOuter":0.266,"align":0.4},"bandPosition":0},"x2":{"field":"b","bandPosition":1},"y":{"field":"r","type":"quantitative","scale":{"domain":[0.125,6.625],"reverse":true,"nice":false,"zero":false}}}},
  {"data":{"values":[{"a":"w1","r":2.4,"r2":2.8},{"a":"w2","r":2.4,"r2":2.8}]},"mark":{"type":"rule","color":"#444","strokeWidth":1},"encoding":{"x":{"field":"a","type":"nominal","scale":{"type":"band","domain":["w1","g1","o1","gap","w2","g2","o2"],"paddingInner":0,"paddingOuter":0.266,"align":0.4},"bandPosition":0},"y":{"field":"r","type":"quantitative","scale":{"domain":[0.125,6.625],"reverse":true,"nice":false,"zero":false}},"y2":{"field":"r2"}}},
  {"data":{"values":[{"a":"o1","r":2.4,"r2":2.8},{"a":"o2","r":2.4,"r2":2.8}]},"mark":{"type":"rule","color":"#444","strokeWidth":1},"encoding":{"x":{"field":"a","type":"nominal","scale":{"type":"band","domain":["w1","g1","o1","gap","w2","g2","o2"],"paddingInner":0,"paddingOuter":0.266,"align":0.4},"bandPosition":1},"y":{"field":"r","type":"quantitative","scale":{"domain":[0.125,6.625],"reverse":true,"nice":false,"zero":false}},"y2":{"field":"r2"}}},
  {"data":{"values":[{"a":"g1","r":3.35,"lab":["Synapto-","neurosome"]},{"a":"g2","r":3.35,"lab":["Extra-synapto-","neurosome"]}]},"mark":{"type":"text","fontSize":16,"baseline":"top","lineHeight":20,"color":"black"},"encoding":{"x":{"field":"a","type":"nominal","scale":{"type":"band","domain":["w1","g1","o1","gap","w2","g2","o2"],"paddingInner":0,"paddingOuter":0.266,"align":0.4}},"y":{"field":"r","type":"quantitative","scale":{"domain":[0.125,6.625],"reverse":true,"nice":false,"zero":false}},"text":{"field":"lab"}}}
 ]}
],"spacing":0,"bounds":"flush","resolve":{"scale":{"color":"independent","fill":"independent","stroke":"independent"},"legend":{"color":"independent","fill":"independent","stroke":"independent"}}}
]
}
